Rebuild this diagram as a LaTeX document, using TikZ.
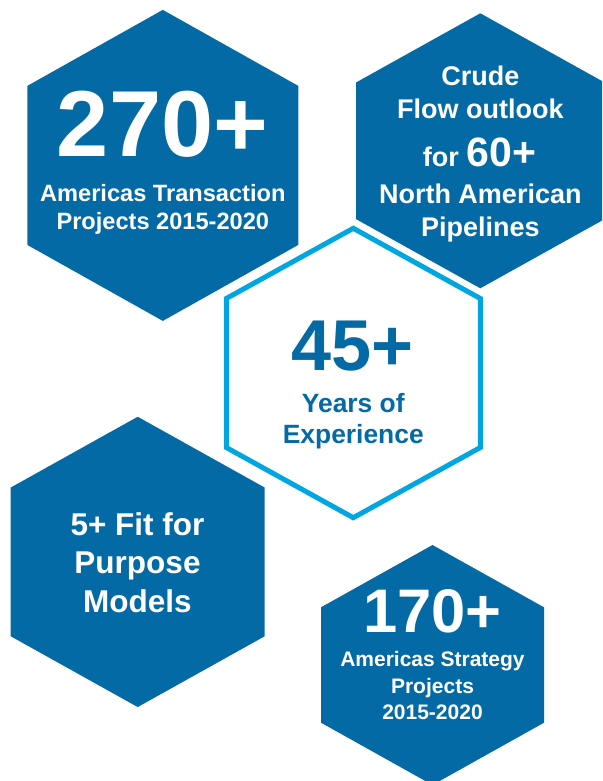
\documentclass[tikz,border=0pt]{standalone}
\usepackage{fontspec}
\setmainfont{Liberation Sans}
\definecolor{hexblue}{RGB}{4,106,166}
\definecolor{hexline}{RGB}{0,166,226}
\newcommand{\hexpath}[5]{(#1,#2-#4-#5) -- (#1+#3,#2-#4) -- (#1+#3,#2+#4) -- (#1,#2+#4+#5) -- (#1-#3,#2+#4) -- (#1-#3,#2-#4) -- cycle}
\newcommand{\fs}[1]{\fontsize{#1}{#1}\selectfont}
\begin{document}
\begin{tikzpicture}[x=1pt,y=-1pt,
  hexa/.style={fill=hexblue},
  hexo/.style={draw=hexline,line width=5pt,fill=white,line join=miter},
  txt/.style={anchor=base,inner sep=0pt,outer sep=0pt,text=white,font=\bfseries},
  txtd/.style={txt,text=hexblue},
]
\useasboundingbox (0,0) rectangle (602,781);
\clip (0,0) rectangle (602,781);

% hexagons
\path[hexa] \hexpath{162.8}{165.4}{135.5}{79.5}{76};
\path[hexa] \hexpath{480.3}{150.8}{124.3}{68.3}{69.2};
\path[hexo] \hexpath{353.3}{373}{127}{74.5}{70.2};
\path[hexa] \hexpath{137.7}{561.9}{127}{74.35}{70.8};
\path[hexa] \hexpath{432.5}{665}{111.5}{57.7}{62.3};

% hexagon 1
\node[txt,font=\bfseries\fs{93.7}] (n270) at (162.5,156) {270+};
\node[txt,font=\bfseries\fs{23.6}] (t1a) at (162.8,201) {Americas Transaction};
\node[txt,font=\bfseries\fs{23.6}] (t1b) at (162.8,229.3) {Projects 2015-2020};

% hexagon 2
\node[txt,font=\bfseries\fs{27}] (t2a) at (480.3,86) {Crude};
\node[txt,font=\bfseries\fs{27}] (t2b) at (480.3,118.3) {Flow outlook};
\node[txt,font=\bfseries\fs{27}] (t2c) at (479.5,166.7) {for {\fs{41}60+}};
\node[txt,font=\bfseries\fs{27}] (t2d) at (480.3,203.3) {North American};
\node[txt,font=\bfseries\fs{27}] (t2e) at (480.3,236.5) {Pipelines};

% centre hexagon
\node[txtd,font=\bfseries\fs{72}] (n45) at (352.5,370.7) {45+};
\node[txtd,font=\bfseries\fs{26.4}] (t3a) at (353.3,412.7) {Years of};
\node[txtd,font=\bfseries\fs{26.4}] (t3b) at (353.3,443.3) {Experience};

% hexagon 4
\node[txt,font=\bfseries\fs{31.5}] (t4a) at (137.5,535) {5+ Fit for};
\node[txt,font=\bfseries\fs{31.5}] (t4b) at (137.5,573.3) {Purpose};
\node[txt,font=\bfseries\fs{31.5}] (t4c) at (137.5,612.7) {Models};

% hexagon 5
\node[txt,font=\bfseries\fs{61.5}] (n170) at (432.5,632.7) {170+};
\node[txt,font=\bfseries\fs{21}] (t5a) at (432.5,666.7) {Americas Strategy};
\node[txt,font=\bfseries\fs{21}] (t5b) at (432.5,693.3) {Projects};
\node[txt,font=\bfseries\fs{21}] (t5c) at (432.5,719) {2015-2020};
\end{tikzpicture}
\end{document}
